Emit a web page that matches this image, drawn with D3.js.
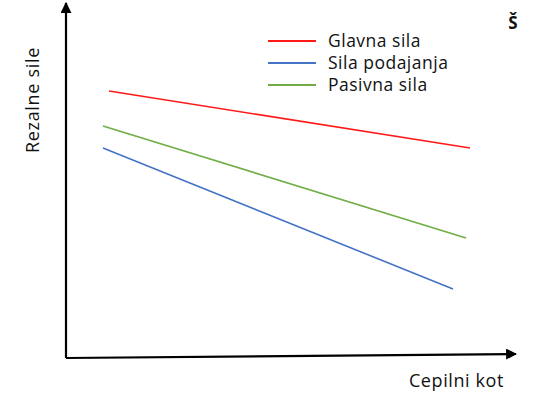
<!DOCTYPE html>
<html>
<head>
<meta charset="utf-8">
<script src="https://cdn.jsdelivr.net/npm/d3@7"></script>
<style>
  body { margin: 0; background: #fff; }
  text { font-family: "Open Sans", sans-serif; fill: #111; }
</style>
</head>
<body>
<div id="chart"></div>
<script>
// podatki (brez enot, samo oblika)
const seriesNames = ["Glavna sila", "Sila podajanja", "Pasivna sila"];
const seriesColors = ["#ff1a1a", "#4472c4", "#70ad47"];
const glavnaSila = [[43, 267], [404, 210]];
const silaPodajanja = [[37, 210], [387, 69]];
const pasivnaSila = [[37, 232], [400, 120]];
const allSeries = [glavnaSila, silaPodajanja, pasivnaSila];

const width = 534;
const height = 419;

const x = d3.scaleLinear().domain([0, 450]).range([66, 516]);
const y = d3.scaleLinear().domain([0, 355]).range([358, 3]);

const svg = d3.select("#chart")
    .append("svg")
    .attr("width", width)
    .attr("height", height);

// puščice za osi
svg.append("defs").append("marker")
    .attr("id", "arrow")
    .attr("viewBox", "0 0 10 10")
    .attr("refX", 9)
    .attr("refY", 5)
    .attr("markerWidth", 5)
    .attr("markerHeight", 5)
    .attr("markerUnits", "strokeWidth")
    .attr("orient", "auto")
    .append("path")
    .attr("d", "M0,0 L10,5 L0,10 z")
    .attr("fill", "#000");

// osi
svg.append("line")
    .attr("x1", x(0)).attr("y1", y(0))
    .attr("x2", x(450)).attr("y2", y(4))
    .attr("stroke", "#000")
    .attr("stroke-width", 2.2)
    .attr("marker-end", "url(#arrow)");

svg.append("line")
    .attr("x1", x(0)).attr("y1", y(0))
    .attr("x2", x(0)).attr("y2", y(355))
    .attr("stroke", "#000")
    .attr("stroke-width", 2.2)
    .attr("marker-end", "url(#arrow)");

// črte
const line = d3.line()
    .x(d => x(d[0]))
    .y(d => y(d[1]));

svg.selectAll(".series")
    .data(allSeries)
    .enter().append("path")
    .attr("class", "series")
    .attr("d", line)
    .attr("fill", "none")
    .attr("stroke", (d, i) => seriesColors[i])
    .attr("stroke-width", 1.6);

// legenda
const legend = svg.selectAll(".legend")
    .data(seriesNames)
    .enter().append("g")
    .attr("class", "legend")
    .attr("transform", (d, i) => "translate(268," + (41 + i * 22) + ")");

legend.append("line")
    .attr("x1", 0).attr("x2", 48)
    .attr("stroke", (d, i) => seriesColors[i])
    .attr("stroke-width", 1.8);

legend.append("text")
    .attr("x", 60)
    .attr("dy", "0.35em")
    .style("font-size", "17.5px")
    .style("letter-spacing", "0.5px")
    .text(d => d);

// oznake osi
svg.append("text")
    .attr("x", 504)
    .attr("y", 387)
    .style("text-anchor", "end")
    .style("font-size", "18px")
    .style("letter-spacing", "0.6px")
    .text("Cepilni kot");

svg.append("text")
    .attr("transform", "translate(39,100) rotate(-90)")
    .style("text-anchor", "middle")
    .style("font-size", "18px")
    .style("letter-spacing", "0.7px")
    .text("Rezalne sile");

svg.append("text")
    .attr("x", 513)
    .attr("y", 29)
    .style("text-anchor", "middle")
    .style("font-size", "17px")
    .style("font-weight", "bold")
    .text("Š");
</script>
</body>
</html>
